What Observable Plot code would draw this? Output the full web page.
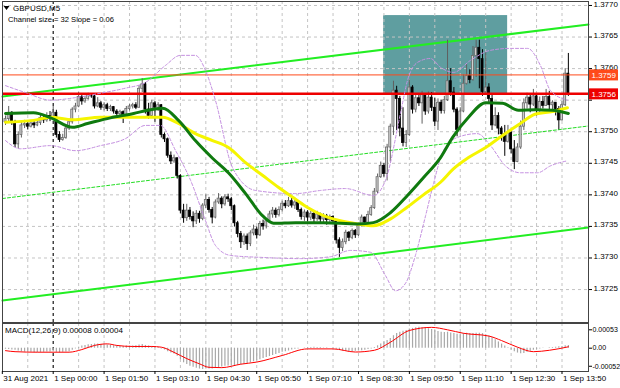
<!DOCTYPE html>
<html><head><meta charset="utf-8">
<script src="https://cdn.jsdelivr.net/npm/d3@7"></script>
<script src="https://cdn.jsdelivr.net/npm/@observablehq/plot@0.6"></script>
<style>
body{margin:0;background:#fff;}
#chart{position:relative;width:620px;height:388px;overflow:hidden;background:#fff;}
#chart svg{position:absolute;left:0;}
</style></head><body><div id="chart"></div>
<script>
// ---- data (prices in pips above 1.3700) ----
const firstOpenPips = 51.5;
const closePips = [
52,53,51.5,48,49.5,51,51.2,50.8,51.3,51,
51.4,52.2,51.8,52.5,52,53,49.5,48.7,49,50.5,
51.5,53.5,54,55.5,54.8,55.2,55.8,55.6,54,54.5,
53.8,54.2,53.6,53.9,53.2,52.8,53.1,52.6,53.6,54,
54.2,53.8,56.8,57.5,53.5,52.5,54.5,53.8,54.2,49.5,
48.8,46.2,45.3,45.8,43,37.5,36.3,37.5,36.5,35.8,
37,36.2,38.3,39.2,37.6,36.4,38.8,39.4,38.5,39.6,
39.3,38.2,35.5,33.8,32.5,33.4,32.2,33.9,34.5,33.6,
35.4,35,35.8,36.9,37.5,36.8,37.6,38.6,38.2,39,
38.3,38.8,37.6,36.5,37.2,36.4,37,36.2,36.9,36.1,
36.6,36,36.5,35.8,32.8,31.6,32.5,34,33.2,34.3,
33.6,35.2,36.4,35.6,36.8,37.9,40.5,42.8,44.6,43.3,
47.5,50.8,56.5,55.2,50.5,48.2,49.5,57,53.5,55.3,
54.5,55.8,53.2,55.4,53.8,51.6,54.6,53.3,55,58,
56.2,53.5,50.3,53.2,57.6,58.8,58.2,62,63.3,61.5,
56.3,57,55.2,51,52.5,50.5,49.6,48.4,49.8,47.2,
45.2,47.5,50.8,54.5,55.4,54.3,55.6,53.4,54.7,54.1,
55.5,54.2,54.6,53.6,51.8,54.2,59.2,56];
const highPips = [
52.5,54,53.2,51.8,50,51.5,51.8,51.6,51.8,51.6,
51.9,52.6,52.7,53,53.2,54,53.4,50,49.6,51,
52,53.8,54.5,56.2,55.8,55.6,56.1,55.9,55.8,55.4,
54.8,54.6,54.5,54.2,54,53.5,53.4,53.3,54,54.3,
54.5,54.6,57.3,58.4,57.8,54.5,55,54.8,54.6,54.3,
49.8,49,46.8,46.3,45.8,43.2,38.5,38.5,38,37.3,
37.5,37.4,38.6,40,39.6,38,39.2,40.2,39.7,40,
40.1,39.6,38.4,35.8,34.2,33.8,33.8,34.3,35.2,34.9,
35.8,36,36.2,37.4,38,37.9,38.1,39,39.1,39.6,
39.5,39.2,38.9,37.9,37.6,37.5,37.4,37.2,37.4,37.1,
37,36.9,36.8,36.7,36,33.2,33,34.4,34.2,34.6,
34.5,35.5,36.8,36.5,37.4,38.3,41,43.3,45.2,45,
48,51.2,58,57.2,55.6,53.8,50.2,58.2,57.3,56,
55.9,56.4,56,56.3,56.2,55.3,55.2,55,55.6,64.5,
60,57,53.8,53.8,59,60.6,59.8,63.5,64.5,64.5,
63,62.5,57.6,56,53.8,53,50.8,51,51,50.2,
48.6,48.1,51.7,55.2,56.1,56,56.7,55.8,55.5,55.6,
56.7,56.4,54.9,54.6,54,54.8,60,62.4];
const lowPips = [
51,51.5,51,47.5,47.3,49,50.5,50.3,50.6,50.5,
50.8,51,51.3,51.5,51.6,51.8,49,48.3,48.5,48.8,
50.2,51.2,53,53.8,54.2,54.5,55,55.3,53.6,53.8,
53.4,53.3,53.2,53.2,52.8,52.4,52.5,51.3,52.4,53.3,
53.6,53.5,53.7,56.2,52.8,52,52.2,51.5,53.2,49,
48.3,45.8,44.8,45,42.5,37,35.5,35.8,36,34.8,
35.3,35.5,35.9,37.8,37.1,35.4,36.2,38.5,37.8,38.2,
38.8,37.5,34.9,33.2,31.5,32,31.2,31.8,33.5,33,
33.4,34.4,34.6,35.5,36.3,36.3,36.5,37.3,37.8,38,
37.9,37.7,37.2,36,35.8,35.7,35.9,35.6,35.8,35.4,
35.5,35.2,35.6,35.3,32.2,30.1,31,32.1,32.6,32.9,
33.1,33.4,34.9,35,35.5,36.6,37.7,40.2,42.6,42.8,
42.2,45.2,49.4,50.2,49.2,47.6,47.5,49.3,52.8,53,
54,51.2,52.6,52.8,53.2,50.8,50.2,52.8,52.8,54.8,
55.6,53,49.2,50,53,57.4,57.6,58,58.6,56.8,
55.6,56,54.5,50.2,50.8,49.5,48.5,46.1,48.2,46.5,
44,45.1,47.2,50.2,53.6,53,54,52.5,52.8,53.6,
54,53.5,53.2,52.5,50.3,51.7,54,55.6];

// moving averages: [bar index, pips]
const greenMA = [[0,52.9],[8.8,53.0],[14.2,52.2],[21.1,50.7],[25.8,51.3],[33.0,52.2],[40.3,52.9],[44.7,53.4],[49.4,53.7],[54.4,51.8],[59.7,48.6],[65.1,45.8],[70.1,43.5],[75.5,40.2],[80.8,36.7],[84.3,35.5],[91.2,35.6],[100.0,35.6],[110.7,35.4],[115.7,35.6],[121.1,37.2],[126.4,39.9],[131.4,42.7],[136.8,45.9],[140.6,49.1],[145.6,52.3],[151.0,54.6],[156.3,54.5],[161.3,53.4],[166.7,53.5],[172.0,53.4],[177.0,52.9]];
const yellowMA = [[0,51.5],[8.8,51.8],[14.2,52.3],[21.1,51.9],[29.9,52.3],[40.3,52.3],[49.4,52.3],[54.4,51.3],[59.7,49.7],[65.1,48.6],[70.1,47.5],[75.5,45.1],[80.8,43.1],[85.8,41.2],[91.2,39.3],[95.0,38.0],[100.0,36.7],[105.3,35.9],[110.7,35.4],[115.7,35.1],[121.1,36.2],[126.2,38.0],[131.4,40.0],[136.8,42.0],[140.6,44.0],[145.6,45.9],[151.0,47.5],[156.3,49.4],[161.3,51.1],[166.7,52.8],[172.0,53.2],[176.7,53.8]];
const upperBand = [[0,57.3],[6.3,56.2],[14.2,55.0],[22.0,55.4],[29.9,56.1],[37.7,56.9],[44.0,57.8],[50.3,60.5],[55.0,62.1],[59.7,62.1],[62.9,59.7],[66.0,55.0],[71.4,44.3],[78.6,40.7],[91.2,40.2],[99.1,40.7],[106.9,41.0],[115.7,39.9],[119.5,42.3],[124.2,52.9],[126.4,58.1],[129.6,61.0],[133.6,61.6],[136.8,60.2],[140.9,59.4],[146.2,61.3],[152.5,62.9],[158.8,63.2],[164.2,63.2],[168.2,60.5],[171.4,56.5],[176.7,55.0]];
const lowerBand = [[0,48.6],[4.7,47.3],[14.2,47.8],[22.0,47.0],[29.9,47.8],[37.7,48.9],[44.0,51.0],[48.7,51.0],[53.5,47.0],[58.2,42.3],[62.9,35.9],[66.0,32.0],[70.8,30.4],[80.2,30.1],[92.8,29.9],[102.2,30.2],[108.5,31.2],[114.8,30.9],[119.5,27.2],[122.6,24.8],[125.8,26.0],[128.9,30.4],[132.1,36.7],[134.6,41.8],[137.7,47.0],[142.1,49.1],[148.4,49.7],[152.5,47.8],[157.2,44.6],[161.9,43.5],[167.3,43.5],[171.4,44.6],[176.7,45.4]];

// regression channel (end bar indices, pips)
const channelEnds = [-0.94, 183.33];
const channelUpper = [55.58, 66.99];
const channelMid = [39.42, 50.91];
const channelLower = [23.26, 34.83];

// rectangle zone and levels
const zoneIdx = [118.9, 157.9];
const zonePips = [55.9, 68.4];
const bidLevel = 1.3759;
const supportLevel = 1.3756;

// MACD (units of 1e-5)
const macdHist = [
-3,-4,-5,-6,-8,-10,-11,-12,-12,-13,-13,-12,-12,-11,-11,-10,-12,-13,-12,-11,-10,
-6,-2,3,6,8,10,11,12,12,11,10,9,8,
7,6,5,5,6,6,6,7,9,11,8,6,5,
3,2,-2,-5,-10,-14,-17,-23,-33,-42,
-47,-52,-55,-58,-60,-61,-60,-60,-60,-58,
-56,-54,-52,-51,-50,-50,-49,-48,-46,-44,-42,-39,-36,-33,
-30,-27,-24,-21,-18,-15,-12,-10,-8,-5,-3,-2,
0,1,2,2,3,2,2,1,1,0,-1,
-3,-6,-8,-9,-10,-10,-9,-8,-7,-6,-4,
-2,2,7,12,18,22,28,36,42,46,49,51,
55,57,59,60,59,58,56,54,51,48,
46,45,46,44,42,40,41,42,43,42,42,43,43,42,39,35,
30,24,18,12,6,1,-5,-10,-14,-16,
-15,-12,-9,-6,-4,-2,-1,0,1,2,3,4,5,7,8];
const macdSignal = [[0,-7],[3,-10],[10,-11.5],[20,-11.5],[24,-4],[28,8],[32,12.5],[35,8],[40,5],[46,5],[49,3],[53,-12],[57,-30],[61,-45],[64,-55],[68,-56],[74,-46],[79,-40],[87,-21],[95,-2],[103,-2],[110,-11],[116,-6],[121,17],[127,51],[134,60],[139,53],[144,43],[152,35],[156,22],[161,3],[166,-10],[171,-6],[177,4]];
const macdTicks = [53, 0, -52];
const macdTickLabels = ["0.00053", "0.00", "-0.00052"];

// axes
const priceTicks = [1.3725,1.3730,1.3735,1.3740,1.3745,1.3750,1.3755,1.3760,1.3765,1.3770];
const priceLabelTicks = [1.3725,1.3730,1.3735,1.3740,1.3745,1.3750,1.3760,1.3765,1.3770];
const gridIdx = [7,15,23,31,39,47,55,63,71,79,87,95,103,111,119,127,135,143,151,159,167,175];
const separatorIdx = 15;
const timeTickIdx = [-1,15,31,47,63,79,95,111,127,143,159,175];
const timeTickLabels = ["31 Aug 2021","1 Sep 00:00","1 Sep 01:50","1 Sep 03:10","1 Sep 04:30","1 Sep 05:50","1 Sep 07:10","1 Sep 08:30","1 Sep 09:50","1 Sep 11:10","1 Sep 12:30","1 Sep 13:50"];
const symbolText = "GBPUSD,M5";
const channelText = "Channel size = 32 Slope = 0.06";
const macdText = "MACD(12,26,9) 0.00008 0.00004";

// ---- build ----
const toP = v => 1.37 + v / 10000;
const bars = closePips.map((c, i) => {
  const o = i === 0 ? firstOpenPips : closePips[i - 1];
  return {i, o: toP(o), c: toP(c), h: toP(highPips[i]), l: toP(lowPips[i]), up: c >= o};
});
const upBars = bars.filter(d => d.up), downBars = bars.filter(d => !d.up);
const pts = arr => arr.map(([i, v]) => ({i, p: toP(v)}));
const chan = arr => channelEnds.map((i, k) => ({i, p: toP(arr[k])}));
const xDomain = [-0.943, 183.33];
const FONT = "'Liberation Sans', Arial, sans-serif";
const labelMap = new Map(timeTickIdx.map((d, k) => [d, timeTickLabels[k]]));
const macdLabelMap = new Map(macdTicks.map((d, k) => [d, macdTickLabels[k]]));

const main = Plot.plot({
  width: 620, height: 323,
  marginLeft: 2, marginRight: 32, marginTop: 1, marginBottom: 1,
  style: {fontFamily: FONT, fontSize: "8px", background: "transparent", color: "#000", overflow: "visible"},
  x: {domain: xDomain, axis: null},
  y: {domain: [1.371978, 1.377063], axis: null},
  marks: [
    Plot.rect([{x1: zoneIdx[0], x2: zoneIdx[1], y1: toP(zonePips[0]), y2: toP(zonePips[1])}], {x1: "x1", x2: "x2", y1: "y1", y2: "y2", fill: "#5f9ea0"}),
    Plot.ruleY(priceTicks, {stroke: "#c4c4c4", strokeDasharray: "3,3"}),
    Plot.ruleX(gridIdx, {stroke: "#c4c4c4", strokeDasharray: "3,3"}),
    Plot.ruleX([separatorIdx], {stroke: "#000", strokeDasharray: "3,3"}),
    Plot.line(chan(channelUpper), {x: "i", y: "p", stroke: "#22ee22", strokeWidth: 2}),
    Plot.line(chan(channelLower), {x: "i", y: "p", stroke: "#22ee22", strokeWidth: 2}),
    Plot.line(chan(channelMid), {x: "i", y: "p", stroke: "#22dd22", strokeWidth: 1, strokeDasharray: "3,2"}),
    Plot.ruleX(upBars, {x: "i", y1: "l", y2: "h", stroke: "#606060", strokeWidth: 1}),
    Plot.ruleX(downBars, {x: "i", y1: "l", y2: "h", stroke: "#000", strokeWidth: 1}),
    Plot.rect(upBars, {x1: d => d.i - 0.32, x2: d => d.i + 0.32, y1: "o", y2: "c", fill: "#d0d0d0", stroke: "#6a6a6a", strokeWidth: 0.8}),
    Plot.rect(downBars, {x1: d => d.i - 0.32, x2: d => d.i + 0.32, y1: "o", y2: "c", fill: "#000", stroke: "#000", strokeWidth: 0.8}),
    Plot.ruleY([bidLevel], {stroke: "#ff4a1a", strokeWidth: 1}),
    Plot.ruleY([supportLevel], {stroke: "#ee0000", strokeWidth: 2.5}),
    Plot.line(pts(upperBand), {x: "i", y: "p", stroke: "#c48fe0", strokeWidth: 1, strokeDasharray: "3,2", curve: "monotone-x"}),
    Plot.line(pts(lowerBand), {x: "i", y: "p", stroke: "#c48fe0", strokeWidth: 1, strokeDasharray: "3,2", curve: "monotone-x"}),
    Plot.line(pts(yellowMA), {x: "i", y: "p", stroke: "#f5f500", strokeWidth: 3, curve: "monotone-x"}),
    Plot.line(pts(greenMA), {x: "i", y: "p", stroke: "#0f7a0f", strokeWidth: 3, curve: "monotone-x"}),
    Plot.frame({stroke: "#444"}),
    Plot.axisY(priceTicks, {anchor: "right", tickFormat: () => "", tickSize: 3, label: null}),
    Plot.axisY(priceLabelTicks, {anchor: "right", tickFormat: d => d.toFixed(4), tickSize: 0, tickPadding: 5, dy: -1.5, label: null})
  ]
});
main.style.top = "0px";
document.getElementById("chart").appendChild(main);

// price tags & header text
const ms = d3.select(main);
const yS = main.scale("y");
[[bidLevel, "#ff4a1a"], [supportLevel, "#ee0000"]].forEach(([v, col]) => {
  const y = yS.apply(v);
  ms.append("rect").attr("x", 589).attr("y", y - 5).attr("width", 29).attr("height", 11).attr("fill", col);
  ms.append("text").attr("x", 591.5).attr("y", y + 3.3).attr("text-anchor", "start").attr("fill", "#fff").attr("font-size", "8px").attr("font-family", FONT).text(v.toFixed(4));
});
ms.append("path").attr("d", "M3.5,6 L9.5,6 L6.5,10 Z").attr("fill", "#000");
ms.append("text").attr("x", 13).attr("y", 10.5).attr("text-anchor", "start").attr("font-size", "8px").attr("font-family", FONT).attr("fill", "#000").text(symbolText);
ms.append("text").attr("x", 8).attr("y", 22).attr("text-anchor", "start").attr("font-size", "7.6px").attr("font-family", FONT).attr("fill", "#000").text(channelText);

const macd = Plot.plot({
  width: 620, height: 66,
  marginLeft: 2, marginRight: 32, marginTop: 1, marginBottom: 17,
  style: {fontFamily: FONT, fontSize: "8px", background: "transparent", color: "#000", overflow: "visible"},
  x: {domain: xDomain, axis: null},
  y: {domain: [-67.1, 71.15], axis: null},
  marks: [
    Plot.ruleX(gridIdx, {stroke: "#c4c4c4", strokeDasharray: "3,3"}),
    Plot.ruleX([separatorIdx], {stroke: "#000", strokeDasharray: "3,3"}),
    Plot.ruleX(macdHist.map((v, i) => ({i, v})), {x: "i", y1: 0, y2: "v", stroke: "#a8a8a8", strokeWidth: 1.2}),
    Plot.line(macdSignal.map(([i, v]) => ({i, v})), {x: "i", y: "v", stroke: "#ff0000", strokeWidth: 1, curve: "monotone-x"}),
    Plot.frame({stroke: "#444"}),
    Plot.axisY(macdTicks, {anchor: "right", tickFormat: d => macdLabelMap.get(d), tickSize: 3, tickPadding: 1, fontSize: 7, label: null}),
    Plot.axisX(timeTickIdx, {anchor: "bottom", tickFormat: () => "", tickSize: 3, label: null}),
    Plot.text(timeTickIdx, {x: d => d, text: d => labelMap.get(d), frameAnchor: "bottom", textAnchor: "start", dx: 1, dy: 9})
  ]
});
macd.style.top = "322px";
document.getElementById("chart").appendChild(macd);
d3.select(macd).append("text").attr("x", 5).attr("y", 11).attr("text-anchor", "start").attr("font-size", "8px").attr("font-family", FONT).attr("fill", "#000").text(macdText);
</script></body></html>
